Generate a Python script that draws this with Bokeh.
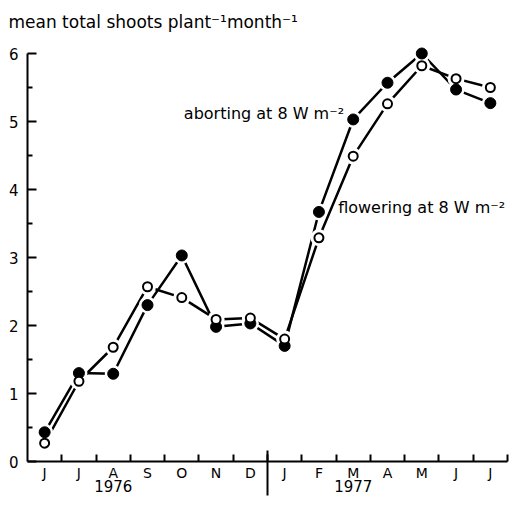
from bokeh.plotting import figure
from bokeh.models import LinearAxis, FixedTicker, Range1d, Label, ColumnDataSource
from bokeh.embed import file_html
from bokeh.resources import INLINE

# ---- data ----
months = ["J", "J", "A", "S", "O", "N", "D", "J", "F", "M", "A", "M", "J", "J"]
years = ["1976", "1977"]
year_centre_month = [2, 9]          # index of the month under which each year is centred
year_break = 7                      # boundary between the two years (before 2nd "J")
aborting = [0.43, 1.30, 1.29, 2.30, 3.03, 1.98, 2.03, 1.70, 3.67, 5.03, 5.57, 6.00, 5.47, 5.27]
flowering = [0.27, 1.18, 1.68, 2.57, 2.41, 2.09, 2.11, 1.80, 3.29, 4.49, 5.26, 5.82, 5.63, 5.50]
y_ticks = [0, 1, 2, 3, 4, 5, 6]
y_minor = [0.5, 1.5, 2.5, 3.5, 4.5, 5.5]

FONT = "DejaVu Sans"
n = len(months)
xc = [i + 0.5 for i in range(n)]

p = figure(width=509, height=496, output_backend="svg", toolbar_location=None,
           x_range=Range1d(0, n), y_range=Range1d(0, 6.25),
           x_axis_type=None, y_axis_type=None,
           min_border_left=27, min_border_right=2, min_border_top=36, min_border_bottom=35)
p.outline_line_color = None
p.xgrid.visible = False
p.ygrid.visible = False
p.background_fill_color = "white"

p.title.text = "mean total shoots plant\u207b\u00b9month\u207b\u00b9"
p.title.align = "left"
p.title.offset = -19
p.title.standoff = 10
p.title.text_font = FONT
p.title.text_font_size = "17px"
p.title.text_font_style = "normal"
p.title.text_color = "black"

# month axis: labels at month centres, small inward ticks at month boundaries
xaxis = LinearAxis(ticker=FixedTicker(ticks=xc, minor_ticks=list(range(1, n + 1))),
                   bounds=(0, n))
xaxis.major_label_overrides = {float(x): m for x, m in zip(xc, months)}
xaxis.major_tick_in = 0
xaxis.major_tick_out = 0
xaxis.minor_tick_in = 7
xaxis.minor_tick_out = 0
xaxis.minor_tick_line_width = 2
xaxis.axis_line_width = 2
xaxis.major_label_standoff = 3
xaxis.major_label_text_font = FONT
xaxis.major_label_text_font_size = "14px"
xaxis.major_label_text_color = "black"
p.add_layout(xaxis, "below")

# year axis: year labels, plus the long separator mark between the years
yr_axis = LinearAxis(ticker=FixedTicker(ticks=[xc[i] for i in year_centre_month],
                                        minor_ticks=[year_break]))
yr_axis.major_label_overrides = {float(xc[i]): y for i, y in zip(year_centre_month, years)}
yr_axis.axis_line_color = None
yr_axis.major_tick_in = 0
yr_axis.major_tick_out = 0
yr_axis.minor_tick_in = 33
yr_axis.minor_tick_out = 12
yr_axis.minor_tick_line_width = 2
yr_axis.major_label_standoff = -16
yr_axis.major_label_text_font = FONT
yr_axis.major_label_text_font_size = "15px"
yr_axis.major_label_text_color = "black"
p.add_layout(yr_axis, "below")

yaxis = LinearAxis(ticker=FixedTicker(ticks=y_ticks, minor_ticks=y_minor), bounds=(0, 6))
yaxis.major_tick_in = 9
yaxis.major_tick_out = 0
yaxis.minor_tick_in = 5
yaxis.minor_tick_out = 0
yaxis.major_tick_line_width = 2
yaxis.minor_tick_line_width = 2
yaxis.axis_line_width = 2
yaxis.major_label_standoff = 9
yaxis.major_label_text_font = FONT
yaxis.major_label_text_font_size = "15px"
yaxis.major_label_text_color = "black"
p.add_layout(yaxis, "left")

src = ColumnDataSource(dict(x=xc, a=aborting, f=flowering))

p.line("x", "a", source=src, line_color="black", line_width=2.5)
p.line("x", "f", source=src, line_color="black", line_width=2.5)
# white halos give the gap between line and marker
p.scatter("x", "a", source=src, size=17, fill_color="white", line_color=None)
p.scatter("x", "f", source=src, size=17, fill_color="white", line_color=None)
p.scatter("x", "a", source=src, size=11, fill_color="black", line_color="black", line_width=1)
p.scatter("x", "f", source=src, size=9, fill_color="white", line_color="black", line_width=2)

p.add_layout(Label(x=4.56, y=5.12, text="aborting at 8 W m\u207b\u00b2",
                   text_baseline="middle", text_font=FONT, text_font_size="16px", text_color="black"))
p.add_layout(Label(x=9.06, y=3.74, text="flowering at 8 W m\u207b\u00b2",
                   text_baseline="middle", text_font=FONT, text_font_size="16px", text_color="black"))

open("out.html", "w").write(file_html(p, INLINE))
